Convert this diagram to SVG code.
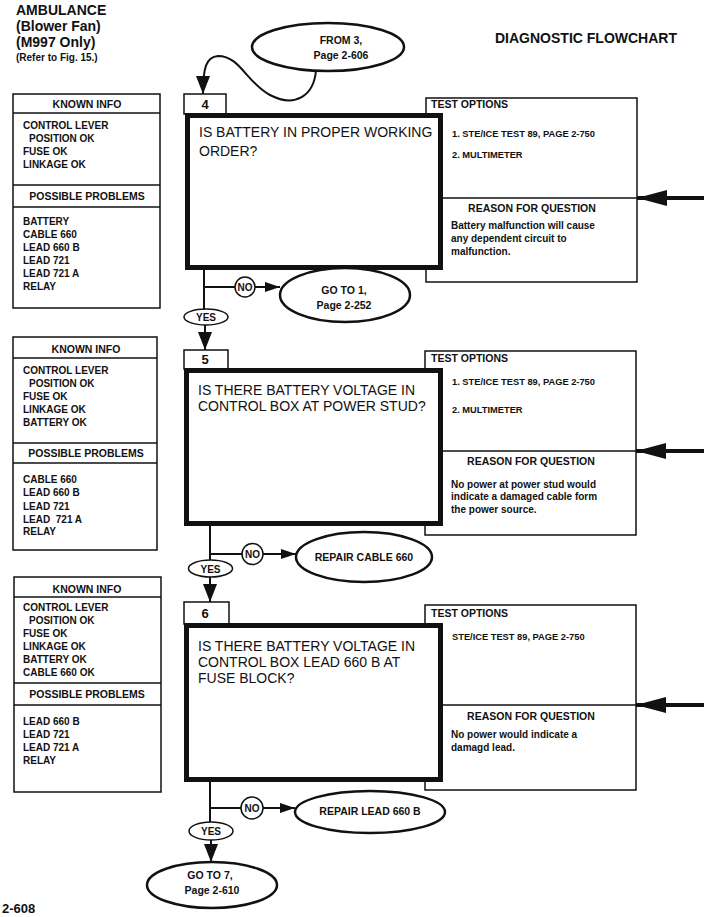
<svg xmlns="http://www.w3.org/2000/svg" width="704" height="917" viewBox="0 0 704 917">
<defs>
<style>
text{font-family:"Liberation Sans",Arial,Helvetica,sans-serif;fill:#111;}
.t{font-size:14px;font-weight:bold;}
.sub{font-size:10px;font-weight:bold;}
.hd{font-size:10.5px;font-weight:bold;}
.it{font-size:10px;font-weight:bold;}
.to{font-size:9.3px;font-weight:bold;}
.q{font-size:14px;}
.num{font-size:13px;font-weight:bold;}
.ov{font-size:10.5px;font-weight:bold;}
.yn{font-size:10px;font-weight:bold;}
.mid{text-anchor:middle;}
.panel{fill:#fff;stroke:#111;stroke-width:1.5;}
.qbox{fill:#fff;stroke:#111;stroke-width:5;}
.lbl{fill:#fff;stroke:#111;stroke-width:1.5;}
.oval{fill:#fff;stroke:#111;stroke-width:2.5;}
.small{fill:#fff;stroke:#111;stroke-width:1.5;}
.ln{fill:none;stroke:#111;stroke-width:2;}
.big{fill:none;stroke:#111;stroke-width:4;}
</style>
<marker id="ah" viewBox="0 0 18 14" refX="18" refY="7" markerWidth="18" markerHeight="14" markerUnits="userSpaceOnUse" orient="auto"><path d="M0,0 L18,7 L0,14 z" fill="#111"/></marker>
<marker id="ahs" viewBox="0 0 15 10" refX="15" refY="5" markerWidth="15" markerHeight="10" markerUnits="userSpaceOnUse" orient="auto"><path d="M0,0 L15,5 L0,10 z" fill="#111"/></marker>
<marker id="ahb" viewBox="0 0 30 16" refX="30" refY="8" markerWidth="30" markerHeight="16" markerUnits="userSpaceOnUse" orient="auto"><path d="M0,0 L30,8 L0,16 z" fill="#111"/></marker>
</defs>
<rect width="704" height="917" fill="#fff"/>

<g id="header">
<text class="t" x="16" y="15">AMBULANCE</text>
<text class="t" x="16" y="31">(Blower Fan)</text>
<text class="t" x="16" y="47">(M997 Only)</text>
<text class="sub" x="16" y="61">(Refer to Fig. 15.)</text>
<text class="t" x="495" y="43">DIAGNOSTIC FLOWCHART</text>
<text class="num" x="2" y="913">2-608</text>
</g>

<g id="from3">
<ellipse class="oval" cx="328" cy="47" rx="76" ry="24"/>
<text class="ov mid" x="341" y="44">FROM 3,</text>
<text class="ov mid" x="341" y="59">Page 2-606</text>
</g>

<g id="connectors">
<path class="ln" d="M316 70 C314 96,295 108,270 95 C246 82,240 56,218 56 C206 57,203 68,203 94" marker-end="url(#ah)"/>
<path class="ln" d="M204 270 V310 M204 287 H235"/>
<path class="ln" d="M255 287 H280" marker-end="url(#ahs)"/>
<path class="ln" d="M205 325 V350" marker-end="url(#ah)"/>
<path class="big" d="M704 198 H637" marker-end="url(#ahb)"/>
<path class="ln" d="M210 526 V560 M210 554 H242"/>
<path class="ln" d="M263 554 H296" marker-end="url(#ahs)"/>
<path class="ln" d="M210 577 V602" marker-end="url(#ah)"/>
<path class="big" d="M704 451 H636" marker-end="url(#ahb)"/>
<path class="ln" d="M210 782 V822 M210 808 H241"/>
<path class="ln" d="M263 808 H295" marker-end="url(#ahs)"/>
<path class="ln" d="M211 840 V862" marker-end="url(#ah)"/>
<path class="big" d="M704 705 H636" marker-end="url(#ahb)"/>
</g>

<g id="known4">
<rect class="panel" x="13" y="94" width="147" height="214"/>
<line class="panel" x1="13" y1="113" x2="160" y2="113"/>
<line class="panel" x1="13" y1="185" x2="160" y2="185"/>
<line class="panel" x1="13" y1="207" x2="160" y2="207"/>
<text class="hd mid" x="87" y="108">KNOWN INFO</text>
<text class="it" x="23" y="129">CONTROL LEVER</text>
<text class="it" x="29" y="142">POSITION OK</text>
<text class="it" x="23" y="155">FUSE OK</text>
<text class="it" x="23" y="168">LINKAGE OK</text>
<text class="hd mid" x="87" y="200">POSSIBLE PROBLEMS</text>
<text class="it" x="23" y="225">BATTERY</text>
<text class="it" x="23" y="238">CABLE 660</text>
<text class="it" x="23" y="251">LEAD 660 B</text>
<text class="it" x="23" y="264">LEAD 721</text>
<text class="it" x="23" y="277">LEAD 721 A</text>
<text class="it" x="23" y="290">RELAY</text>
</g>

<g id="options4">
<rect class="panel" x="426" y="98" width="211" height="184"/>
<line class="panel" x1="440" y1="198" x2="637" y2="198"/>
<text class="hd" x="431" y="108">TEST OPTIONS</text>
<text class="to" x="452" y="137">1. STE/ICE TEST 89, PAGE 2-750</text>
<text class="to" x="452" y="158">2. MULTIMETER</text>
<text class="hd mid" x="532" y="212">REASON FOR QUESTION</text>
<text class="it" x="451" y="229">Battery malfunction will cause</text>
<text class="it" x="451" y="242">any dependent circuit to</text>
<text class="it" x="451" y="255">malfunction.</text>
</g>

<g id="q4">
<rect class="lbl" x="184" y="94" width="42" height="20"/>
<text class="num mid" x="205" y="109">4</text>
<rect class="qbox" x="187.5" y="115.5" width="253" height="152"/>
<text class="q" x="199" y="137">IS BATTERY IN PROPER WORKING</text>
<text class="q" x="199" y="156">ORDER?</text>
</g>

<g id="no4">
<circle class="small" cx="245" cy="287" r="10"/>
<text class="yn mid" x="245" y="291">NO</text>
</g>
<g id="goto1">
<ellipse class="oval" cx="345" cy="295" rx="65" ry="27"/>
<text class="ov mid" x="344" y="294">GO TO 1,</text>
<text class="ov mid" x="344" y="309">Page 2-252</text>
</g>
<g id="yes4">
<ellipse class="small" cx="206" cy="317" rx="22" ry="8"/>
<text class="yn mid" x="206" y="321">YES</text>
</g>

<g id="known5">
<rect class="panel" x="13" y="337" width="144" height="213"/>
<line class="panel" x1="13" y1="358" x2="157" y2="358"/>
<line class="panel" x1="13" y1="443" x2="157" y2="443"/>
<line class="panel" x1="13" y1="463" x2="157" y2="463"/>
<text class="hd mid" x="86" y="353">KNOWN INFO</text>
<text class="it" x="23" y="374">CONTROL LEVER</text>
<text class="it" x="29" y="387">POSITION OK</text>
<text class="it" x="23" y="400">FUSE OK</text>
<text class="it" x="23" y="413">LINKAGE OK</text>
<text class="it" x="23" y="426">BATTERY OK</text>
<text class="hd mid" x="86" y="457">POSSIBLE PROBLEMS</text>
<text class="it" x="23" y="483">CABLE 660</text>
<text class="it" x="23" y="496">LEAD 660 B</text>
<text class="it" x="23" y="510">LEAD 721</text>
<text class="it" x="23" y="523" xml:space="preserve">LEAD  721 A</text>
<text class="it" x="23" y="535">RELAY</text>
</g>

<g id="options5">
<rect class="panel" x="425" y="351" width="211" height="184"/>
<line class="panel" x1="440" y1="451" x2="636" y2="451"/>
<text class="hd" x="431" y="362">TEST OPTIONS</text>
<text class="to" x="452" y="385">1. STE/ICE TEST 89, PAGE 2-750</text>
<text class="to" x="452" y="413">2. MULTIMETER</text>
<text class="hd mid" x="531" y="465">REASON FOR QUESTION</text>
<text class="it" x="451" y="488">No power at power stud would</text>
<text class="it" x="451" y="500">indicate a damaged cable form</text>
<text class="it" x="451" y="513">the power source.</text>
</g>

<g id="q5">
<rect class="lbl" x="184" y="350" width="44" height="19"/>
<text class="num mid" x="205" y="364">5</text>
<rect class="qbox" x="186.5" y="370.5" width="254" height="153"/>
<text class="q" x="198" y="395">IS THERE BATTERY VOLTAGE IN</text>
<text class="q" x="198" y="411">CONTROL BOX AT POWER STUD?</text>
</g>

<g id="no5">
<circle class="small" cx="252.5" cy="554" r="10.5"/>
<text class="yn mid" x="252.5" y="558">NO</text>
</g>
<g id="repair660">
<ellipse class="oval" cx="364" cy="557" rx="68" ry="25"/>
<text class="ov mid" x="364" y="561">REPAIR CABLE 660</text>
</g>
<g id="yes5">
<ellipse class="small" cx="210.5" cy="568.5" rx="22" ry="8.5"/>
<text class="yn mid" x="210.5" y="572.5">YES</text>
</g>

<g id="known6">
<rect class="panel" x="14" y="577" width="147" height="215"/>
<line class="panel" x1="14" y1="597" x2="161" y2="597"/>
<line class="panel" x1="14" y1="683" x2="161" y2="683"/>
<line class="panel" x1="14" y1="705" x2="161" y2="705"/>
<text class="hd mid" x="87" y="593">KNOWN INFO</text>
<text class="it" x="23" y="611">CONTROL LEVER</text>
<text class="it" x="29" y="624">POSITION OK</text>
<text class="it" x="23" y="637">FUSE OK</text>
<text class="it" x="23" y="650">LINKAGE OK</text>
<text class="it" x="23" y="663">BATTERY OK</text>
<text class="it" x="23" y="676">CABLE 660 OK</text>
<text class="hd mid" x="87" y="698">POSSIBLE PROBLEMS</text>
<text class="it" x="23" y="725">LEAD 660 B</text>
<text class="it" x="23" y="738">LEAD 721</text>
<text class="it" x="23" y="751">LEAD 721 A</text>
<text class="it" x="23" y="764">RELAY</text>
</g>

<g id="options6">
<rect class="panel" x="425" y="605" width="211" height="185"/>
<line class="panel" x1="440" y1="705" x2="636" y2="705"/>
<text class="hd" x="431" y="617">TEST OPTIONS</text>
<text class="to" x="452" y="640">STE/ICE TEST 89, PAGE 2-750</text>
<text class="hd mid" x="531" y="720">REASON FOR QUESTION</text>
<text class="it" x="451" y="738">No power would indicate a</text>
<text class="it" x="451" y="751">damagd lead.</text>
</g>

<g id="q6">
<rect class="lbl" x="184" y="602" width="45" height="22"/>
<text class="num mid" x="205" y="618">6</text>
<rect class="qbox" x="186.5" y="625.5" width="254" height="154"/>
<text class="q" x="198" y="651">IS THERE BATTERY VOLTAGE IN</text>
<text class="q" x="198" y="667">CONTROL BOX LEAD 660 B AT</text>
<text class="q" x="198" y="683">FUSE BLOCK?</text>
</g>

<g id="no6">
<circle class="small" cx="252" cy="808" r="11"/>
<text class="yn mid" x="252" y="812">NO</text>
</g>
<g id="repair660b">
<ellipse class="oval" cx="370" cy="812" rx="75" ry="21"/>
<text class="ov mid" x="370" y="815">REPAIR LEAD 660 B</text>
</g>
<g id="yes6">
<ellipse class="small" cx="211" cy="831" rx="22" ry="9"/>
<text class="yn mid" x="211" y="835">YES</text>
</g>
<g id="goto7">
<ellipse class="oval" cx="212" cy="885" rx="65" ry="23"/>
<text class="ov mid" x="210" y="879">GO TO 7,</text>
<text class="ov mid" x="212" y="894">Page 2-610</text>
</g>
</svg>
